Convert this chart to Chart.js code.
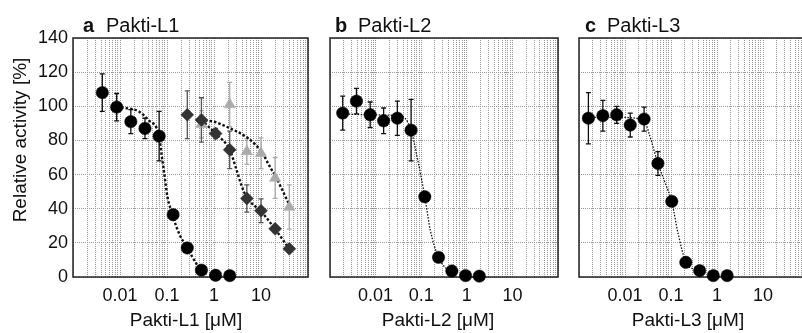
<!DOCTYPE html>
<html>
<head>
<meta charset="utf-8">
<script src="https://cdn.jsdelivr.net/npm/chart.js@4.4.0/dist/chart.umd.min.js"></script>
<style>
  html, body { margin: 0; padding: 0; background: #fff; }
  body { width: 802px; height: 333px; position: relative; overflow: hidden;
         font-family: 'Liberation Sans', Arial, sans-serif; color: #111; }
  canvas { position: absolute; top: 0; }
  .ptitle { position: absolute; top: 13px; font-size: 20px; line-height: 24px; white-space: nowrap; }
  .xtitle { position: absolute; top: 309px; width: 200px; text-align: center;
            font-size: 19px; line-height: 22px; white-space: nowrap; }
  .ytitle { position: absolute; left: -80px; top: 129px; width: 200px; text-align: center;
            font-size: 19px; line-height: 22px; white-space: nowrap; transform: rotate(-90deg); }
</style>
</head>
<body>
<canvas id="panelA" width="316" height="333" style="left:0px"></canvas>
<canvas id="panelB" width="244" height="333" style="left:322px"></canvas>
<canvas id="panelC" width="246" height="333" style="left:571px"></canvas>

<div class="ptitle" style="left:83px"><b>a</b></div><div class="ptitle" style="left:106px">Pakti-L1</div>
<div class="ptitle" style="left:335px"><b>b</b></div><div class="ptitle" style="left:358px">Pakti-L2</div>
<div class="ptitle" style="left:585px"><b>c</b></div><div class="ptitle" style="left:607px">Pakti-L3</div>

<div class="ytitle">Relative activity [%]</div>
<div class="xtitle" style="left:86px">Pakti-L1 [μM]</div>
<div class="xtitle" style="left:338px">Pakti-L2 [μM]</div>
<div class="xtitle" style="left:588px">Pakti-L3 [μM]</div>

<script>
// ---- axis labels ----
const xTickVals = [0.01, 0.1, 1, 10];
const xTickText = ['0.01', '0.1', '1', '10'];
const yTickVals = [0, 20, 40, 60, 80, 100, 120, 140];

// ---- panel a: Pakti-L1 ----
const aCircX = [0.0042, 0.0085, 0.017, 0.034, 0.068, 0.135, 0.27, 0.54, 1.08, 2.16];
const aCircY = [108, 99.5, 91, 87, 82.5, 36.5, 17, 4, 1, 0.8];
const aCircErr = [11, 8, 7, 6, 14.5, 3, 2, 1, 0, 0];

const aDiaX = [0.27, 0.54, 1.08, 2.16, 5, 10, 20, 40];
const aDiaY = [95, 92, 84, 74.5, 46, 38.8, 28.2, 16.5];
const aDiaErr = [14, 13, 3, 11, 8, 7, 2, 1];

const aTriX = [0.54, 2.16, 5, 10, 20, 40];
const aTriY = [89.5, 101, 73.5, 72.5, 58, 41];
const aTriErr = [8, 13, 7.5, 9, 12, 13];

const aFitCircX = [0.0085, 0.013, 0.025, 0.04, 0.068, 0.076, 0.089, 0.102, 0.119, 0.135, 0.184, 0.27, 0.44, 0.61];
const aFitCircY = [99.5, 99, 97, 92, 82.5, 72.5, 59, 47, 40, 35, 25, 17, 7, 2];
const aFitDiaX = [0.54, 1.08, 2.16, 3.0, 3.8, 5, 10, 20, 40];
const aFitDiaY = [92, 84, 74.5, 63, 54, 46.5, 38.5, 28, 16.5];
const aFitTriX = [0.52, 0.98, 1.86, 4.9, 7.3, 10.8, 14.8, 20.5, 39];
const aFitTriY = [92, 91, 88, 82, 78, 72.5, 65.5, 58.8, 43];

// ---- panel b: Pakti-L2 ----
const bX = [0.0019, 0.0038, 0.0076, 0.015, 0.03, 0.06, 0.12, 0.24, 0.47, 0.94, 1.88];
const bY = [96, 103, 95, 91.5, 93, 86, 47, 11.5, 3.5, 0.8, 0.5];
const bErr = [10, 7.5, 7.5, 7.5, 10, 18, 2, 1, 0, 0, 0];
const bFitX = [0.0019, 0.008, 0.03, 0.044, 0.06, 0.084, 0.12, 0.158, 0.24, 0.355, 0.47];
const bFitY = [95.5, 95, 94.5, 93, 86, 68.5, 47, 27.5, 11.5, 5, 3];

// ---- panel c: Pakti-L3 ----
const cX = [0.0016, 0.0033, 0.0066, 0.013, 0.026, 0.052, 0.104, 0.21, 0.42, 0.83, 1.66];
const cY = [93, 94.5, 95, 89, 92.5, 66.5, 44.3, 8.6, 3.7, 0.8, 0.8];
const cErr = [15, 9, 5, 7, 7, 7, 2, 1, 1, 0, 0];
const cFitX = [0.0016, 0.007, 0.026, 0.033, 0.052, 0.075, 0.104, 0.142, 0.21, 0.29, 0.42];
const cFitY = [93.5, 93.5, 92, 84.5, 66.5, 55, 44, 25.7, 8.6, 5, 3.7];

Chart.defaults.font.family = "'Liberation Sans', Arial, sans-serif";
Chart.defaults.color = '#111';

const pts = (xs, ys) => xs.map((x, i) => ({ x, y: ys[i] }));

// log grid: every 1..9 x 10^n between 0.001 and 100
const gridVals = [];
for (let e = -3; e <= 1; e++) {
    for (let k = 1; k <= 9; k++) gridVals.push(+(k * Math.pow(10, e)).toPrecision(3));
}
gridVals.push(100);

function xLabel(v) {
    const i = xTickVals.findIndex(t => Math.abs(t - v) / t < 1e-6);
    return i >= 0 ? xTickText[i] : '';
}

// frame + error bars, drawn under the markers
function errorBars(sets) {
    return {
        id: 'errorBars',
        beforeDatasetsDraw(chart) {
            const { ctx, chartArea: a, scales: { x, y } } = chart;
            ctx.save();
            ctx.strokeStyle = '#222';
            ctx.lineWidth = 1.5;
            ctx.strokeRect(a.left, a.top, a.right - a.left, a.bottom - a.top);
            sets.forEach(s => {
                ctx.strokeStyle = s.color;
                ctx.lineWidth = 1.3;
                s.x.forEach((xv, i) => {
                    if (!s.err[i]) return;
                    const px = x.getPixelForValue(xv);
                    const top = y.getPixelForValue(s.y[i] + s.err[i]);
                    const bot = y.getPixelForValue(s.y[i] - s.err[i]);
                    ctx.beginPath();
                    ctx.moveTo(px, top); ctx.lineTo(px, bot);
                    ctx.moveTo(px - 2.5, top); ctx.lineTo(px + 2.5, top);
                    ctx.moveTo(px - 2.5, bot); ctx.lineTo(px + 2.5, bot);
                    ctx.stroke();
                });
            });
            ctx.restore();
        }
    };
}

const marker = (data, style, color, r) => ({
    data, showLine: false, pointStyle: style, pointRadius: r, pointHoverRadius: r,
    backgroundColor: color, borderColor: color, borderWidth: 0.5, clip: false
});
const fit = (data, w, dash) => ({
    data, borderColor: '#111', borderWidth: w, borderDash: dash, pointRadius: 0,
    cubicInterpolationMode: 'monotone', fill: false, clip: false
});

function makePanel(id, datasets, bars, showY, padLeft) {
    new Chart(document.getElementById(id), {
        type: 'line',
        data: { datasets },
        options: {
            responsive: false,
            animation: false,
            layout: { padding: { top: 38, right: 3, left: padLeft, bottom: 0 } },
            plugins: { legend: { display: false }, tooltip: { enabled: false } },
            scales: {
                x: {
                    type: 'logarithmic',
                    min: 0.001,
                    max: 100,
                    afterBuildTicks: s => { s.ticks = gridVals.map(v => ({ value: v })); },
                    afterFit: s => { s.height = 56; },
                    grid: { color: '#999', lineWidth: 1, drawTicks: false },
                    border: { display: false, dash: [1, 1] },
                    ticks: {
                        autoSkip: false, maxRotation: 0, minRotation: 0, padding: 8,
                        font: { size: 18 }, color: '#111',
                        callback: v => xLabel(v)
                    }
                },
                y: {
                    min: 0,
                    max: 140,
                    afterBuildTicks: s => { s.ticks = yTickVals.map(v => ({ value: v })); },
                    afterFit: s => { s.width = showY ? 73 : 0; },
                    grid: { color: '#999', lineWidth: 1, drawTicks: false },
                    border: { display: false, dash: [1, 1] },
                    ticks: { display: showY, padding: 5, font: { size: 18 }, color: '#111' }
                }
            }
        },
        plugins: [errorBars(bars)]
    });
}

makePanel('panelA', [
    marker(pts(aCircX, aCircY), 'circle', '#000', 6.2),
    marker(pts(aDiaX, aDiaY), 'rectRot', '#333', 6.5),
    marker(pts(aTriX, aTriY), 'triangle', '#aaa', 6.5),
    fit(pts(aFitCircX, aFitCircY), 2.4, [2.5, 2]),
    fit(pts(aFitDiaX, aFitDiaY), 2.4, [2.5, 2]),
    fit(pts(aFitTriX, aFitTriY), 2.4, [2.5, 2])
], [
    { x: aTriX, y: aTriY, err: aTriErr, color: '#aaa' },
    { x: aDiaX, y: aDiaY, err: aDiaErr, color: '#555' },
    { x: aCircX, y: aCircY, err: aCircErr, color: '#111' }
], true, 0);

makePanel('panelB', [
    marker(pts(bX, bY), 'circle', '#000', 6.2),
    fit(pts(bFitX, bFitY), 1.3, [1.5, 1.5])
], [
    { x: bX, y: bY, err: bErr, color: '#111' }
], false, 3);

makePanel('panelC', [
    marker(pts(cX, cY), 'circle', '#000', 6.2),
    fit(pts(cFitX, cFitY), 1.3, [1.5, 1.5])
], [
    { x: cX, y: cY, err: cErr, color: '#111' }
], false, 3);
</script>
</body>
</html>
